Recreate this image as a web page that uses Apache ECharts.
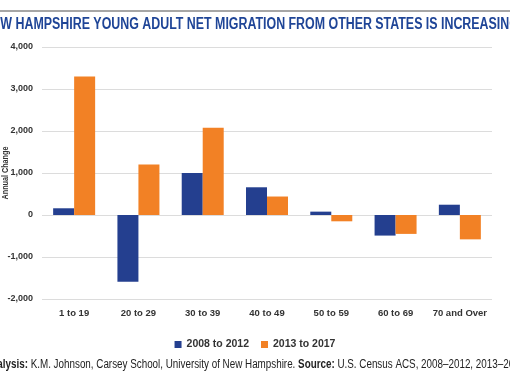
<!DOCTYPE html>
<html><head><meta charset="utf-8">
<script src="https://cdn.jsdelivr.net/npm/echarts@6/dist/echarts.min.js"></script>
<style>html,body{margin:0;padding:0;background:#fff}#c{width:510px;height:382px}</style>
</head><body><div id="c"></div>
<script>
const categories = ['1 to 19','20 to 29','30 to 39','40 to 49','50 to 59','60 to 69','70 and Over'];
const series2008 = [160, -1590, 1000, 660, 80, -490, 245];
const series2013 = [3300, 1200, 2080, 440, -150, -450, -580];
const seriesNames = ['2008 to 2012','2013 to 2017'];
const titleText = 'NEW HAMPSHIRE YOUNG ADULT NET MIGRATION FROM OTHER STATES IS INCREASING';
const yTitle = 'Annual Change';

const F = '"Liberation Sans Narrow","Liberation Sans",Arial,sans-serif';
const fmt = v => (v < 0 ? '-' : '') + Math.abs(v).toString().replace(/\B(?=(\d{3})+(?!\d))/g, ',');

const chart = echarts.init(document.getElementById('c'));
chart.setOption({
  animation: false,
  color: ['#243f8f', '#f28125'],
  grid: {left: 42, right: 18, top: 47, bottom: 83},
  graphic: [
    {type: 'rect', x: 0, y: 10, shape: {width: 510, height: 2}, style: {fill: '#a6a6a6'}},
    {type: 'text', x: 251, y: 25, scaleX: 0.775, scaleY: 1,
      style: {text: titleText, font: 'bold 16px ' + F, fill: '#1f4597', align: 'center', verticalAlign: 'middle'}},
    {type: 'text', x: 6, y: 173, rotation: Math.PI / 2, scaleX: 0.8,
      style: {text: yTitle, font: 'bold 9px ' + F, fill: '#333', align: 'center', verticalAlign: 'middle'}},
    {type: 'text', x: 256, y: 365, scaleX: 0.82,
      style: {
        align: 'center', verticalAlign: 'middle',
        rich: {b: {font: 'bold 12px ' + F, fill: '#222'}, n: {font: '12px ' + F, fill: '#222'}},
        text: '{b|Analysis:}{n| K.M. Johnson, Carsey School, University of New Hampshire. }{b|Source:}{n| U.S. Census ACS, 2008–2012, 2013–2017.}'
      }}
  ],
  legend: {
    data: seriesNames, left: 'center', top: 334, itemWidth: 7, itemHeight: 7, itemGap: 12, icon: 'rect',
    textStyle: {fontFamily: F, fontWeight: 'bold', fontSize: 10.5, color: '#333'}
  },
  xAxis: {
    type: 'category', data: categories,
    axisLine: {show: false, onZero: false}, axisTick: {show: false},
    axisLabel: {interval: 0, fontFamily: F, fontWeight: 'bold', fontSize: 9.5, color: '#333', margin: 9}
  },
  yAxis: {
    type: 'value', min: -2000, max: 4000, interval: 1000,
    axisLine: {show: false}, axisTick: {show: false},
    axisLabel: {formatter: fmt, fontFamily: F, fontWeight: 'bold', fontSize: 9, color: '#333', margin: 9},
    splitLine: {lineStyle: {color: '#dcdcdc', width: 1}}
  },
  series: [
    {name: seriesNames[0], type: 'bar', data: series2008, barWidth: 21, barGap: '0%'},
    {name: seriesNames[1], type: 'bar', data: series2013, barWidth: 21, barGap: '0%'}
  ]
});
</script></body></html>
